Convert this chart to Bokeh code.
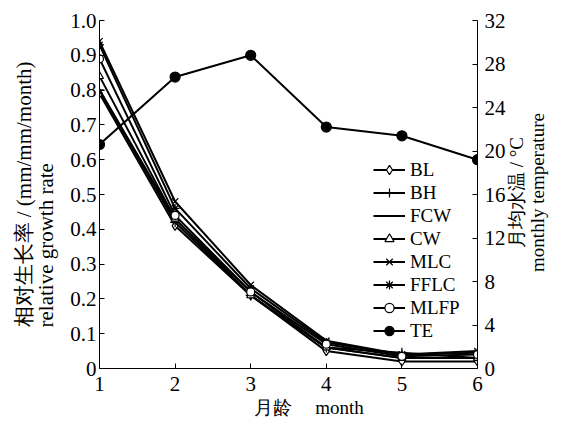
import math
from bokeh.plotting import figure
from bokeh.models import Range1d, LinearAxis, FixedTicker, Legend, LegendItem, Title, Label
from bokeh.embed import file_html
from bokeh.resources import INLINE

months = [1, 2, 3, 4, 5, 6]
BL = [0.79, 0.41, 0.21, 0.05, 0.02, 0.02]
BH = [0.80, 0.42, 0.21, 0.06, 0.045, 0.03]
FCW = [0.80, 0.43, 0.22, 0.06, 0.03, 0.03]
CW = [0.84, 0.43, 0.21, 0.06, 0.03, 0.03]
MLC = [0.94, 0.48, 0.24, 0.08, 0.04, 0.05]
FFLC = [0.93, 0.46, 0.23, 0.075, 0.04, 0.045]
MLFP = [0.89, 0.44, 0.22, 0.07, 0.035, 0.04]
TE = [20.6, 26.8, 28.8, 22.2, 21.4, 19.2]
left_ticks = [0, 0.1, 0.2, 0.3, 0.4, 0.5, 0.6, 0.7, 0.8, 0.9, 1.0]
left_labels = ["0", "0.1", "0.2", "0.3", "0.4", "0.5", "0.6", "0.7", "0.8", "0.9", "1.0"]
right_ticks = [0, 4, 8, 12, 16, 20, 24, 28, 32]

FONT = "Liberation Serif"

p = figure(width=550, height=419, output_backend="svg", toolbar_location=None,
           x_range=Range1d(1, 6), y_range=Range1d(0, 1),
           min_border_left=90, min_border_right=73, min_border_top=20, min_border_bottom=51,
           y_axis_location="left")
p.extra_y_ranges = {"temp": Range1d(0, 32)}
p.grid.visible = False
p.outline_line_color = None
p.background_fill_color = "white"

def style_axis(ax):
    ax.major_tick_in = 5
    ax.major_tick_out = 0
    ax.minor_tick_line_color = None
    ax.axis_line_color = "black"
    ax.major_tick_line_color = "black"
    ax.major_label_text_font = FONT
    ax.major_label_text_font_size = "21px"
    ax.major_label_text_color = "black"
    ax.major_label_text_line_height = 1.0
    ax.axis_line_width = 1

xa = p.xaxis[0]
style_axis(xa)
xa.ticker = FixedTicker(ticks=months)
xa.major_label_standoff = 8

ya = p.yaxis[0]
style_axis(ya)
ya.ticker = FixedTicker(ticks=left_ticks)
ya.major_label_overrides = {t: l for t, l in zip(left_ticks, left_labels)}
ya.major_label_standoff = 3

ra = LinearAxis(y_range_name="temp", ticker=FixedTicker(ticks=right_ticks))
style_axis(ra)
ra.major_label_standoff = 7
p.add_layout(ra, "right")

left_title = Title(text="相对生长率 / (mm/mm/month)\nrelative growth rate", align="center",
                   standoff=18, text_font=FONT, text_font_size="21px",
                   text_font_style="normal", text_color="black", text_line_height=0.95)
p.add_layout(left_title, "left")

bottom_title = Title(text="月龄\u00a0\u00a0\u00a0\u00a0\u00a0month", align="left", offset=154,
                     standoff=3, text_font=FONT, text_font_size="19px",
                     text_font_style="normal", text_color="black", text_line_height=1.0)
p.add_layout(bottom_title, "below")

right_title = Label(x=18, y=176, x_units="screen", y_units="screen",
                    text="月均水温 / °C\nmonthly temperature",
                    angle=math.pi / 2, text_align="center", text_baseline="middle",
                    text_font=FONT, text_font_size="19px", text_color="black",
                    text_line_height=1.0)
p.add_layout(right_title, "right")

lw = 2
items = []
def add(name, ys, marker, fill="white", y_range_name=None, size=8):
    kw = {}
    if y_range_name:
        kw["y_range_name"] = y_range_name
    r1 = p.line(months, ys, line_color="black", line_width=lw, **kw)
    r2 = p.scatter(months, ys, marker=marker, size=size, line_color="black",
                   fill_color=fill, line_width=1.2, **kw)
    items.append(LegendItem(label=name, renderers=[r1, r2]))

add("BL", BL, "diamond", size=9)
add("BH", BH, "cross", size=10)
add("FCW", FCW, "dash", size=8)
add("CW", CW, "triangle", size=8)
add("MLC", MLC, "x", size=9)
add("FFLC", FFLC, "asterisk", size=9)
add("MLFP", MLFP, "circle", size=8)
add("TE", TE, "circle", fill="black", y_range_name="temp", size=10)

legend = Legend(items=items, location=(274, 26))
legend.background_fill_alpha = 0
legend.border_line_color = None
legend.label_text_font = FONT
legend.label_text_font_size = "19px"
legend.label_text_color = "black"
legend.glyph_width = 32
legend.spacing = 0
legend.label_standoff = 5
legend.label_height = 23
legend.glyph_height = 23
legend.padding = 0
legend.margin = 0
p.add_layout(legend, "center")

open("out.html", "w").write(file_html(p, INLINE))
